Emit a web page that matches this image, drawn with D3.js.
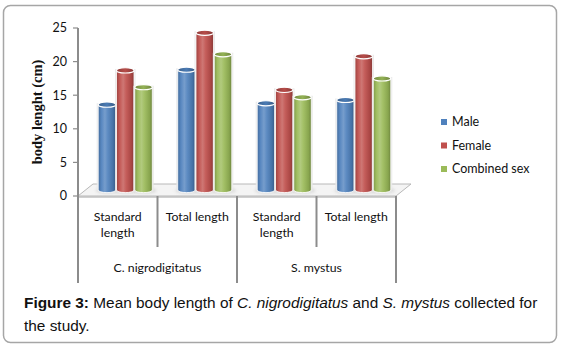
<!DOCTYPE html>
<html><head><meta charset="utf-8">
<script src="https://cdn.jsdelivr.net/npm/d3@7"></script>
<style>html,body{margin:0;padding:0;background:#fff;}svg{display:block;}</style>
</head><body>
<svg id="chart" width="569" height="351"></svg>
<script>
const categories = ["Standard length", "Total length", "Standard length", "Total length"];
const species = ["C. nigrodigitatus", "S. mystus"];
const seriesNames = ["Male", "Female", "Combined sex"];
const male = [12.7, 17.9, 12.9, 13.4];
const female = [17.8, 23.4, 14.9, 19.9];
const combined = [15.3, 20.2, 13.8, 16.6];
const yTicks = [0, 5, 10, 15, 20, 25];
const colors = ["#4F81BD", "#C0504D", "#9BBB59"];

(function () {
const series = [male, female, combined];
const svg = d3.select("#chart");
const defs = svg.append("defs");

// card
svg.append("rect").attr("x", 3.5).attr("y", 5.5).attr("width", 553).attr("height", 337)
  .attr("rx", 7).attr("fill", "#fff").attr("stroke", "#a6a6a6").attr("stroke-width", 1.5);

const pL = 78, pR = 396, pT = 28, pB = 196;
const depth = {dx: 15, dy: -12};
const y = d3.scaleLinear().domain([0, 25]).range([pB, pT]);
const x0 = d3.scaleBand().domain(d3.range(categories.length)).range([pL, pR]).padding(0);
const x1 = d3.scaleBand().domain(d3.range(seriesNames.length))
  .range([x0.bandwidth() * 0.155, x0.bandwidth() * 0.845]).padding(0);

function shade(c, k) { return k > 0 ? d3.interpolateRgb(c, "#fff")(k) : d3.interpolateRgb(c, "#000")(-k); }
colors.forEach((c, i) => {
  const g = defs.append("linearGradient").attr("id", "cyl" + i).attr("x1", "0%").attr("x2", "100%");
  [[0, -0.18], [0.18, 0.05], [0.38, 0.22], [0.55, 0.08], [0.85, -0.12], [1, -0.3]].forEach(([o, k]) =>
    g.append("stop").attr("offset", o * 100 + "%").attr("stop-color", shade(c, k)));
  const t = defs.append("linearGradient").attr("id", "top" + i).attr("x1", "0%").attr("x2", "100%");
  [[0, -0.25], [0.5, -0.05], [1, -0.3]].forEach(([o, k]) =>
    t.append("stop").attr("offset", o * 100 + "%").attr("stop-color", shade(c, k)));
});
const blur = defs.append("filter").attr("id", "soft").attr("x", "-50%").attr("y", "-50%").attr("width", "200%").attr("height", "200%");
blur.append("feGaussianBlur").attr("stdDeviation", 1.6);

// floor slab
const floorPts = [[pL, pB], [pR, pB], [pR + depth.dx, pB + depth.dy], [pL + depth.dx, pB + depth.dy]];
svg.append("path").attr("d", `M${pL},${pB}L${pR},${pB}L${pR},${pB + 2}L${pL},${pB + 2}Z`)
  .attr("fill", "#d0d0d0");
svg.append("polygon").attr("points", floorPts.map(p => p.join(",")).join(" "))
  .attr("fill", "#f4f4f4").attr("stroke", "#b8b8b8").attr("stroke-width", 1);

// axis lines
const axisColor = "#8c8c8c";
svg.append("line").attr("x1", pL).attr("x2", pL).attr("y1", pT).attr("y2", 283)
  .attr("stroke", axisColor).attr("stroke-width", 2);
const yAxis = svg.append("g");
yTicks.forEach(t => {
  yAxis.append("line").attr("x1", pL - 5).attr("x2", pL).attr("y1", y(t)).attr("y2", y(t))
    .attr("stroke", axisColor).attr("stroke-width", 1.2);
  yAxis.append("text").attr("x", 67).attr("y", y(t)).attr("dy", "0.35em").attr("text-anchor", "end")
    .attr("font-family", "Lato, 'Open Sans', sans-serif").attr("font-size", 12.5).attr("fill", "#111").text(t);
});

// category separators
d3.range(1, categories.length + 1).forEach(i => {
  const xx = i === categories.length ? pR : x0(i);
  const outer = i % 2 === 0;
  svg.append("line").attr("x1", xx).attr("x2", xx).attr("y1", pB).attr("y2", outer ? 283 : 247)
    .attr("stroke", axisColor).attr("stroke-width", 2);
});

// bars
const mid = {dx: depth.dx / 2, dy: depth.dy / 2};
const bw = x1.bandwidth();
const ry = 2.6;
categories.forEach((cat, ci) => {
  series.forEach((vals, si) => {
    const cx = x0(ci) + x1(si) + mid.dx + bw / 2;
    const yb = y(0) + mid.dy;
    svg.append("ellipse").attr("cx", cx + 1).attr("cy", yb + 0.5).attr("rx", bw / 2 + 3).attr("ry", 3.2)
      .attr("fill", "#c8c8c8").attr("opacity", 0.55).attr("filter", "url(#soft)");
  });
});
categories.forEach((cat, ci) => {
  series.forEach((vals, si) => {
    const cx = x0(ci) + x1(si) + mid.dx + bw / 2;
    const yb = y(0) + mid.dy;
    const yt = y(vals[ci]) + mid.dy;
    const r = bw / 2 - 0.4;
    const body = `M${cx - r},${yt}L${cx - r},${yb}A${r},${ry} 0 0 0 ${cx + r},${yb}L${cx + r},${yt}Z`;
    svg.append("path").attr("d", body).attr("fill", "none").attr("stroke", "#e6e6e6").attr("stroke-width", 3).attr("opacity", 0.8);
    svg.append("path").attr("d", body).attr("fill", `url(#cyl${si})`).attr("stroke", "#fff").attr("stroke-width", 0.8);
    svg.append("ellipse").attr("cx", cx).attr("cy", yt).attr("rx", r).attr("ry", ry)
      .attr("fill", `url(#top${si})`).attr("stroke", "#fff").attr("stroke-width", 1.1);
  });
});

// category labels
const catFont = "Lato, 'Open Sans', sans-serif";
categories.forEach((cat, ci) => {
  const cx = x0(ci) + x0.bandwidth() / 2;
  const words = cat === "Standard length" ? ["Standard", "length"] : [cat];
  words.forEach((w, wi) => {
    svg.append("text").attr("x", cx).attr("y", 217 + wi * 16).attr("dy", "0.35em").attr("text-anchor", "middle")
      .attr("font-family", catFont).attr("font-size", 12.3).attr("fill", "#111").text(w);
  });
});
species.forEach((sp, i) => {
  const cx = x0(i * 2) + x0.bandwidth();
  svg.append("text").attr("x", cx).attr("y", 268).attr("dy", "0.35em").attr("text-anchor", "middle")
    .attr("font-family", catFont).attr("font-size", 12.3).attr("fill", "#111").text(sp);
});

// y title
svg.append("text").attr("transform", "translate(37,112) rotate(-90)").attr("text-anchor", "middle")
  .attr("dy", "0.35em").attr("font-family", "'Liberation Serif', 'DejaVu Serif', serif").attr("font-weight", "bold")
  .attr("font-size", 14.5).attr("fill", "#111").text("body lenght (cm)");

// legend
seriesNames.forEach((n, i) => {
  const ly = 122 + i * 23.5;
  svg.append("rect").attr("x", 441).attr("y", ly - 3).attr("width", 6).attr("height", 6).attr("fill", colors[i]);
  svg.append("text").attr("x", 452).attr("y", ly).attr("dy", "0.35em").attr("font-family", catFont)
    .attr("font-size", 12.5).attr("fill", "#111").text(n);
});

// caption
const cap = svg.append("text").attr("font-family", "'Liberation Sans', Arial, sans-serif").attr("font-size", 15.4).attr("fill", "#111");
const l1 = cap.append("tspan").attr("x", 24).attr("y", 308);
l1.append("tspan").attr("font-weight", "bold").text("Figure 3:");
l1.append("tspan").text(" Mean body length of ");
l1.append("tspan").attr("font-style", "italic").text("C. nigrodigitatus");
l1.append("tspan").text(" and ");
l1.append("tspan").attr("font-style", "italic").text("S. mystus");
l1.append("tspan").text(" collected for");
cap.append("tspan").attr("x", 24).attr("y", 331).text("the study.");
})();
</script>
</body></html>
